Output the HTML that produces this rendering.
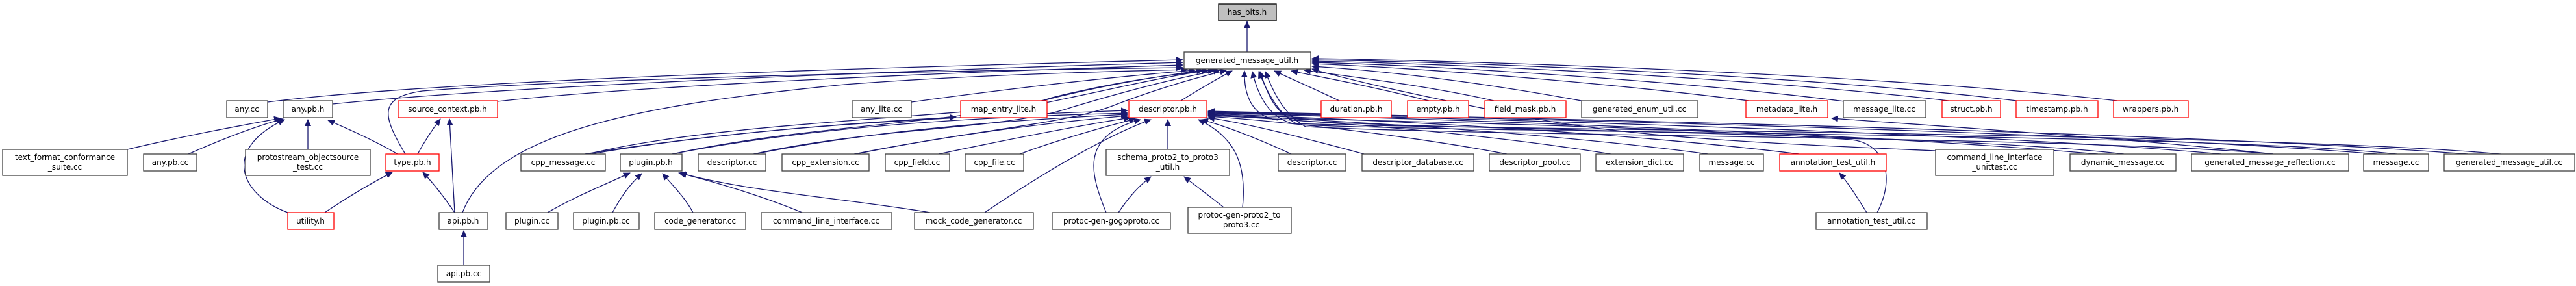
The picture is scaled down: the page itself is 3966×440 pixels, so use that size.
<!DOCTYPE html>
<html><head><meta charset="utf-8"><style>
html,body{margin:0;padding:0;background:#fff;}
svg{display:block;}
text{font-family:"DejaVu Sans","Liberation Sans",sans-serif;font-size:12px;fill:#000;text-anchor:middle;}
.e{fill:none;stroke:#191970;stroke-width:1.3;marker-end:url(#a);}
.n{fill:#fff;stroke:#404040;stroke-width:1.3;}
.r{fill:#fff;stroke:#ff0000;stroke-width:1.3;}
</style></head><body>
<svg width="3966" height="440" viewBox="0 0 3966 440" xmlns="http://www.w3.org/2000/svg">
<defs><marker id="a" markerUnits="userSpaceOnUse" markerWidth="11" markerHeight="10" refX="10" refY="5" orient="auto"><path d="M0,0 L11,5 L0,10 z" fill="#191970"/></marker></defs>
<!-- edges -->
<path class="e" d="M1920,80 L1920,33"/>
<path class="e" d="M412,157 C700,120 1500,100 1821,92"/>
<path class="e" d="M512,160 C800,130 1500,105 1821,96"/>
<path class="e" d="M766,156 C1000,130 1500,110 1821,100"/>
<path class="e" d="M624,237 C590,180 580,150 650,140 C900,120 1500,108 1821,104"/>
<path class="e" d="M712,327 C760,200 1000,160 1300,130 C1500,115 1700,110 1828,107"/>
<path class="e" d="M1403,157 C1600,130 1750,115 1840,108"/>
<path class="e" d="M1605,155 C1700,130 1800,115 1852,108"/>
<path class="e" d="M1818,155 C1850,135 1880,118 1897,109"/>
<path class="e" d="M905,237 C1100,190 1400,185 1600,160 C1700,140 1780,120 1860,108"/>
<path class="e" d="M1035,237 C1250,190 1500,190 1620,150 C1720,125 1800,115 1870,108"/>
<path class="e" d="M1160,237 C1350,195 1550,200 1650,165 C1750,135 1820,118 1878,108"/>
<path class="e" d="M1315,237 C1500,200 1650,190 1720,160 C1800,130 1850,118 1888,108"/>
<path class="e" d="M1968,185 C1930,180 1915,150 1916,109"/>
<path class="e" d="M3850,237 C3500,205 2300,200 1990,190 C1950,180 1935,140 1928,110"/>
<path class="e" d="M3690,237 C3400,205 2300,205 2000,192 C1970,180 1950,140 1938,110"/>
<path class="e" d="M3270,237 C3000,205 2200,200 1990,185 C1960,170 1950,140 1940,110"/>
<path class="e" d="M3500,237 C3200,210 2300,210 2010,195 C1975,175 1960,140 1948,110"/>
<path class="e" d="M2062,155 C2020,135 1985,120 1962,109"/>
<path class="e" d="M2200,155 C2100,130 2030,118 1988,109"/>
<path class="e" d="M2300,155 C2200,132 2080,118 2008,108"/>
<path class="e" d="M2440,156 C2300,130 2150,110 2020,102"/>
<path class="e" d="M2700,156 C2500,130 2200,105 2020,98"/>
<path class="e" d="M2840,156 C2600,125 2200,100 2020,96"/>
<path class="e" d="M3000,155 C2700,120 2250,98 2020,94"/>
<path class="e" d="M3105,155 C2800,118 2300,96 2020,92"/>
<path class="e" d="M3260,155 C2900,115 2300,94 2020,90"/>
<path class="e" d="M2980,232 C2700,220 2500,210 2350,180 C2250,160 2100,130 2020,106"/>
<!-- any.pb.h -->
<path class="e" d="M196,230 C280,210 360,195 432,182"/>
<path class="e" d="M290,237 C340,215 390,195 436,183"/>
<path class="e" d="M474,230 L474,184"/>
<path class="e" d="M612,237 C580,218 540,200 505,185"/>
<path class="e" d="M443,327 C370,300 340,230 438,184"/>
<!-- source_context -->
<path class="e" d="M643,237 C655,215 665,200 678,183"/>
<path class="e" d="M700,327 C697,270 694,220 692,183"/>
<!-- type.pb.h -->
<path class="e" d="M500,327 C540,300 575,280 604,265"/>
<path class="e" d="M700,327 C685,305 670,285 651,265"/>
<path class="e" d="M714,408 L714,355"/>
<!-- plugin.pb.h -->
<path class="e" d="M843,327 C890,300 930,285 970,266"/>
<path class="e" d="M943,327 C955,305 968,285 988,267"/>
<path class="e" d="M1067,327 C1055,305 1040,290 1020,267"/>
<path class="e" d="M1235,327 C1170,300 1100,280 1045,266"/>
<path class="e" d="M1432,327 C1300,305 1150,295 1047,266"/>
<!-- descriptor.pb.h -->
<path class="e" d="M910,237 C1150,195 1450,180 1736,170"/>
<path class="e" d="M1035,237 C1250,195 1500,180 1736,174"/>
<path class="e" d="M1162,237 C1350,200 1550,185 1736,176"/>
<path class="e" d="M1318,237 C1450,210 1600,190 1736,178"/>
<path class="e" d="M1445,237 C1550,215 1650,195 1740,181"/>
<path class="e" d="M1570,237 C1630,215 1700,195 1748,183"/>
<path class="e" d="M1798,230 L1798,184"/>
<path class="e" d="M1516,327 C1600,270 1700,210 1772,184"/>
<path class="e" d="M1703,327 C1680,270 1660,210 1756,184"/>
<path class="e" d="M1913,319 C1920,250 1900,210 1845,184"/>
<path class="e" d="M1988,237 C1940,215 1890,195 1850,184"/>
<path class="e" d="M2100,237 C2000,210 1920,190 1860,181"/>
<path class="e" d="M2320,237 C2150,205 1950,185 1860,179"/>
<path class="e" d="M2480,237 C2250,200 2000,185 1860,177"/>
<path class="e" d="M2630,237 C2350,200 2000,183 1860,176"/>
<path class="e" d="M2770,237 C2450,198 2050,182 1860,175"/>
<path class="e" d="M3230,237 C2800,200 2100,180 1860,174"/>
<path class="e" d="M3420,237 C3000,200 2150,180 1860,173"/>
<path class="e" d="M3660,237 C3200,200 2200,180 1860,172"/>
<path class="e" d="M3800,237 C3300,200 2250,180 1860,171"/>
<path class="e" d="M2890,327 C2920,270 2900,220 2850,215 C2500,190 2000,185 1860,178"/>
<path class="e" d="M1722,327 C1740,300 1755,285 1772,272"/>
<path class="e" d="M1884,319 C1860,300 1840,285 1823,272"/>
<path class="e" d="M2874,327 C2860,305 2848,285 2832,266"/>
<path class="e" d="M900,237 C1100,205 1300,190 1472,180"/>
<path class="e" d="M3500,237 C3300,215 3000,195 2820,182"/>
<!-- nodes -->
<rect x="1876" y="6" width="89" height="26" fill="#bfbfbf" stroke="#000" stroke-width="1.3"/><text x="1920" y="23">has_bits.h</text>
<rect class="n" x="1823" y="80" width="195" height="26"/><text x="1920" y="97">generated_message_util.h</text>
<rect class="n" x="349" y="155" width="63" height="26"/><text x="380" y="172">any.cc</text>
<rect class="n" x="436" y="155" width="76" height="26"/><text x="474" y="172">any.pb.h</text>
<rect class="r" x="613" y="155" width="153" height="26"/><text x="689" y="172">source_context.pb.h</text>
<rect class="n" x="1312" y="155" width="91" height="26"/><text x="1357" y="172">any_lite.cc</text>
<rect class="r" x="1479" y="155" width="133" height="26"/><text x="1545" y="172">map_entry_lite.h</text>
<rect class="r" x="1738" y="155" width="120" height="26"/><text x="1798" y="172">descriptor.pb.h</text>
<rect class="r" x="2034" y="155" width="108" height="26"/><text x="2088" y="172">duration.pb.h</text>
<rect class="r" x="2167" y="155" width="94" height="26"/><text x="2214" y="172">empty.pb.h</text>
<rect class="r" x="2286" y="155" width="125" height="26"/><text x="2348" y="172">field_mask.pb.h</text>
<rect class="n" x="2435" y="155" width="179" height="26"/><text x="2524" y="172">generated_enum_util.cc</text>
<rect class="r" x="2688" y="155" width="126" height="26"/><text x="2751" y="172">metadata_lite.h</text>
<rect class="n" x="2838" y="155" width="127" height="26"/><text x="2901" y="172">message_lite.cc</text>
<rect class="r" x="2990" y="155" width="90" height="26"/><text x="3035" y="172">struct.pb.h</text>
<rect class="r" x="3104" y="155" width="126" height="26"/><text x="3167" y="172">timestamp.pb.h</text>
<rect class="r" x="3254" y="155" width="115" height="26"/><text x="3311" y="172">wrappers.pb.h</text>
<rect class="n" x="4" y="230" width="192" height="40"/><text x="100" y="246">text_format_conformance</text><text x="100" y="261">_suite.cc</text>
<rect class="n" x="221" y="237" width="82" height="26"/><text x="262" y="254">any.pb.cc</text>
<rect class="n" x="378" y="230" width="192" height="40"/><text x="474" y="246">protostream_objectsource</text><text x="474" y="261">_test.cc</text>
<rect class="r" x="594" y="237" width="82" height="26"/><text x="635" y="254">type.pb.h</text>
<rect class="n" x="802" y="237" width="130" height="26"/><text x="867" y="254">cpp_message.cc</text>
<rect class="n" x="955" y="237" width="95" height="26"/><text x="1002" y="254">plugin.pb.h</text>
<rect class="n" x="1075" y="237" width="104" height="26"/><text x="1127" y="254">descriptor.cc</text>
<rect class="n" x="1204" y="237" width="134" height="26"/><text x="1271" y="254">cpp_extension.cc</text>
<rect class="n" x="1363" y="237" width="99" height="26"/><text x="1412" y="254">cpp_field.cc</text>
<rect class="n" x="1486" y="237" width="90" height="26"/><text x="1531" y="254">cpp_file.cc</text>
<rect class="n" x="1703" y="230" width="190" height="40"/><text x="1798" y="246">schema_proto2_to_proto3</text><text x="1798" y="261">_util.h</text>
<rect class="n" x="1968" y="237" width="104" height="26"/><text x="2020" y="254">descriptor.cc</text>
<rect class="n" x="2097" y="237" width="172" height="26"/><text x="2183" y="254">descriptor_database.cc</text>
<rect class="n" x="2293" y="237" width="140" height="26"/><text x="2363" y="254">descriptor_pool.cc</text>
<rect class="n" x="2457" y="237" width="135" height="26"/><text x="2524" y="254">extension_dict.cc</text>
<rect class="n" x="2617" y="237" width="98" height="26"/><text x="2666" y="254">message.cc</text>
<rect class="r" x="2740" y="237" width="164" height="26"/><text x="2822" y="254">annotation_test_util.h</text>
<rect class="n" x="2980" y="230" width="182" height="40"/><text x="3071" y="246">command_line_interface</text><text x="3071" y="261">_unittest.cc</text>
<rect class="n" x="3187" y="237" width="163" height="26"/><text x="3268" y="254">dynamic_message.cc</text>
<rect class="n" x="3374" y="237" width="242" height="26"/><text x="3495" y="254">generated_message_reflection.cc</text>
<rect class="n" x="3639" y="237" width="100" height="26"/><text x="3689" y="254">message.cc</text>
<rect class="n" x="3763" y="237" width="201" height="26"/><text x="3863" y="254">generated_message_util.cc</text>
<rect class="r" x="443" y="327" width="71" height="26"/><text x="478" y="344">utility.h</text>
<rect class="n" x="676" y="327" width="75" height="26"/><text x="713" y="344">api.pb.h</text>
<rect class="n" x="779" y="327" width="80" height="26"/><text x="819" y="344">plugin.cc</text>
<rect class="n" x="883" y="327" width="101" height="26"/><text x="933" y="344">plugin.pb.cc</text>
<rect class="n" x="1008" y="327" width="140" height="26"/><text x="1078" y="344">code_generator.cc</text>
<rect class="n" x="1172" y="327" width="201" height="26"/><text x="1272" y="344">command_line_interface.cc</text>
<rect class="n" x="1408" y="327" width="183" height="26"/><text x="1499" y="344">mock_code_generator.cc</text>
<rect class="n" x="1620" y="327" width="182" height="26"/><text x="1711" y="344">protoc-gen-gogoproto.cc</text>
<rect class="n" x="1829" y="319" width="159" height="40"/><text x="1908" y="335">protoc-gen-proto2_to</text><text x="1908" y="350">_proto3.cc</text>
<rect class="n" x="2796" y="327" width="171" height="26"/><text x="2881" y="344">annotation_test_util.cc</text>
<rect class="n" x="674" y="408" width="80" height="26"/><text x="714" y="425">api.pb.cc</text>
</svg>
</body></html>
